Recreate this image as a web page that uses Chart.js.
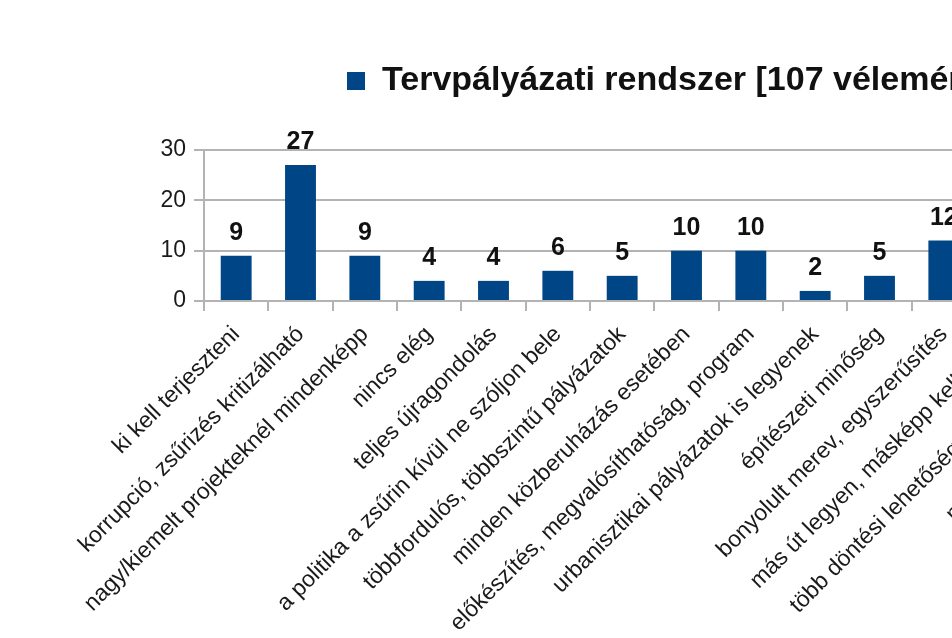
<!DOCTYPE html>
<html lang="hu">
<head>
<meta charset="UTF-8">
<title>Tervpályázati rendszer</title>
<script src="https://cdn.jsdelivr.net/npm/chart.js@4"></script>
<style>
  html, body { margin: 0; padding: 0; background: #fff; overflow: hidden; }
  #wrap { width: 1189px; height: 638px; }
</style>
</head>
<body>
<div id="wrap"><canvas id="chart" width="1189" height="638"></canvas></div>
<script>
  // data; the chart is cut at the right edge,
  // so the last three categories have no visible bar (null)
  const seriesName = "Tervpályázati rendszer [107 vélemény]";
  const categories = [
    "ki kell terjeszteni",
    "korrupció, zsűrizés kritizálható",
    "nagy/kiemelt projekteknél mindenképp",
    "nincs elég",
    "teljes újragondolás",
    "a politika a zsűrin kívül ne szóljon bele",
    "többfordulós, többszintű pályázatok",
    "minden közberuházás esetében",
    "előkészítés, megvalósíthatóság, program",
    "urbanisztikai pályázatok is legyenek",
    "építészeti minőség",
    "bonyolult merev, egyszerűsítés",
    "más út legyen, másképp kell bírálni",
    "több döntési lehetőség a megbízóknak",
    "megfelelő a szakmai zsűri"
  ];
  const values = [9, 27, 9, 4, 4, 6, 5, 10, 10, 2, 5, 12, null, null, null];
  const yTicks = [0, 10, 20, 30];

  const fontFamily = '"Liberation Sans", Arial, sans-serif';
  const barColor = '#004586';
  const gridColor = '#b3b3b3';
  const textColor = '#1a1a1a';

  // legend: more room below it, and moved right (the picture is cropped)
  const legendPlace = {
    id: 'legendPlace',
    beforeLayout(chart) {
      const legend = chart.legend;
      if (!legend || legend._gapPatched) return;
      const fit = legend.fit;
      legend.fit = function () {
        fit.call(this);
        this.height += 42;
      };
      legend._gapPatched = true;
    },
    afterLayout(chart) {
      const legend = chart.legend;
      legend.left = 337;
      legend.right = chart.width;
    }
  };

  // value above every bar
  const valueLabels = {
    id: 'valueLabels',
    afterDatasetsDraw(chart) {
      const ctx = chart.ctx;
      const meta = chart.getDatasetMeta(0);
      ctx.save();
      ctx.font = 'bold 25px ' + fontFamily;
      ctx.fillStyle = '#111';
      ctx.textAlign = 'center';
      ctx.textBaseline = 'alphabetic';
      meta.data.forEach((bar, i) => {
        const v = values[i];
        if (v == null) return;
        ctx.fillText(String(v), bar.x, bar.y - 16);
      });
      ctx.restore();
    }
  };

  new Chart(document.getElementById('chart'), {
    type: 'bar',
    data: {
      labels: categories,
      datasets: [{
        label: seriesName,
        data: values,
        backgroundColor: barColor,
        borderWidth: 0,
        barPercentage: 0.48,
        categoryPercentage: 1
      }]
    },
    options: {
      responsive: false,
      animation: false,
      layout: { padding: { top: 54, left: 0, right: 20, bottom: 0 } },
      plugins: {
        tooltip: { enabled: false },
        legend: {
          display: true,
          position: 'top',
          align: 'start',
          labels: {
            boxWidth: 18,
            boxHeight: 18,
            padding: 10,
            color: '#111',
            font: { family: fontFamily, size: 34, weight: 'bold' }
          }
        }
      },
      scales: {
        x: {
          grid: {
            display: true,
            drawOnChartArea: false,
            drawTicks: true,
            tickLength: 10,
            offset: true,
            color: gridColor,
            lineWidth: 2
          },
          border: { display: true, color: gridColor, width: 2 },
          ticks: {
            autoSkip: false,
            minRotation: 45,
            maxRotation: 45,
            padding: 10,
            color: textColor,
            font: { family: fontFamily, size: 23 }
          },
          afterFit(scale) { scale.height = 337; }
        },
        y: {
          min: 0,
          max: 30,
          grid: { color: gridColor, lineWidth: 2, tickLength: 10 },
          border: { display: true, color: gridColor, width: 2 },
          ticks: {
            color: textColor,
            padding: 8,
            font: { family: fontFamily, size: 23 }
          },
          afterBuildTicks(axis) { axis.ticks = yTicks.map(v => ({ value: v })); },
          afterFit(scale) { scale.width = 204; }
        }
      }
    },
    plugins: [legendPlace, valueLabels]
  });
</script>
</body>
</html>
